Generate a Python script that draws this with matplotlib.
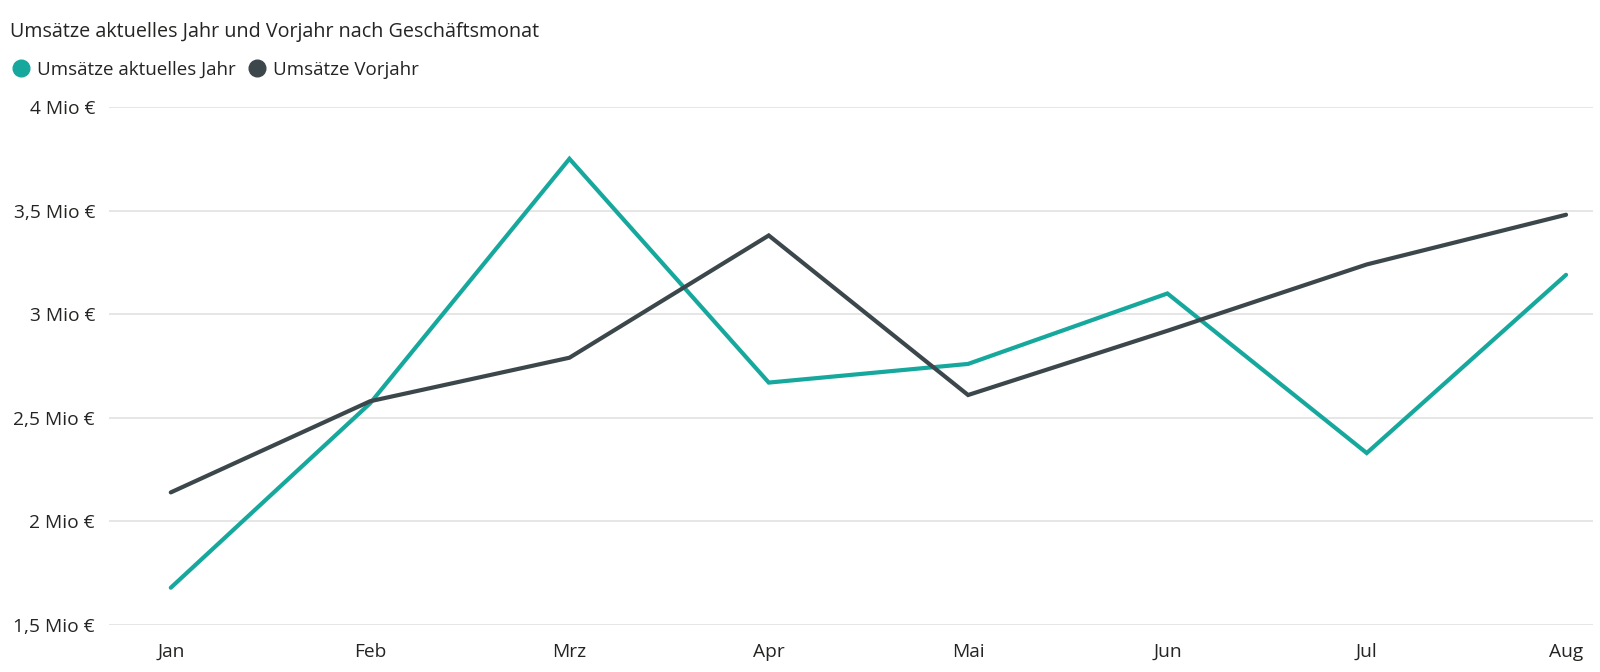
import matplotlib
matplotlib.use("Agg")
import matplotlib.pyplot as plt
from matplotlib.lines import Line2D
from matplotlib.ticker import FuncFormatter

# Monatsumsätze in Mio €
monate = ["Jan", "Feb", "Mrz", "Apr", "Mai", "Jun", "Jul", "Aug"]
umsatz_aktuell = [1.68, 2.57, 3.75, 2.67, 2.76, 3.10, 2.33, 3.19]
umsatz_vorjahr = [2.14, 2.58, 2.79, 3.38, 2.61, 2.92, 3.24, 3.48]
y_ticks = [1.5, 2.0, 2.5, 3.0, 3.5, 4.0]

farbe_aktuell = "#17A89D"
farbe_vorjahr = "#3C474C"
textfarbe = "#252423"

plt.rcParams['font.family'] = ['Open Sans', 'DejaVu Sans']

fig = plt.figure(figsize=(16, 6.72), dpi=100)
ax = fig.add_axes([0.068, 0.0699, 0.9276, 0.7709])

x = list(range(len(monate)))
ax.plot(x, umsatz_aktuell, color=farbe_aktuell, lw=3, clip_on=False,
        solid_capstyle='round', solid_joinstyle='miter')
ax.plot(x, umsatz_vorjahr, color=farbe_vorjahr, lw=3, clip_on=False,
        solid_capstyle='round', solid_joinstyle='miter')

ax.set_xlim(-0.311, 7.135)
ax.set_ylim(1.5, 4.0)
ax.set_xticks(x)
ax.set_xticklabels(monate)
ax.set_yticks(y_ticks)


def mio(v, pos):
    s = ("%g" % v).replace(".", ",")
    return s + " Mio €"


ax.yaxis.set_major_formatter(FuncFormatter(mio))
ax.tick_params(axis='both', length=0, labelsize=13.8, labelcolor=textfarbe)
ax.tick_params(axis='y', pad=10)
ax.tick_params(axis='x', pad=13)
ax.grid(axis='y', color="#E1E1E1", lw=1.2)
ax.set_axisbelow(True)
for s in ax.spines.values():
    s.set_visible(False)

fig.text(0.006, 0.953, "Umsätze aktuelles Jahr und Vorjahr nach Geschäftsmonat",
         fontsize=14.2, color=textfarbe, va='center', ha='left')

handles = [
    Line2D([], [], marker='o', ls='', markersize=12, color=farbe_aktuell),
    Line2D([], [], marker='o', ls='', markersize=12, color=farbe_vorjahr),
]
fig.legend(handles, ["Umsätze aktuelles Jahr", "Umsätze Vorjahr"],
           loc='center left', bbox_to_anchor=(-0.003, 0.896), ncol=2,
           frameon=False, fontsize=13.5, handletextpad=0.35, columnspacing=0.6,
           handlelength=1.0, labelcolor=textfarbe)

fig.savefig("out.png", dpi=100)
